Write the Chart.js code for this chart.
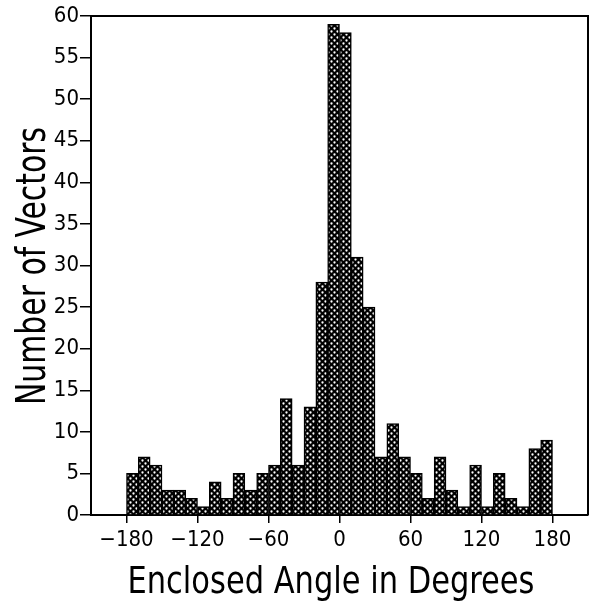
<!DOCTYPE html>
<html>
<head>
<meta charset="utf-8">
<script src="https://cdn.jsdelivr.net/npm/chart.js@4/dist/chart.umd.min.js"></script>
<style>
    html, body { margin: 0; padding: 0; background: #fff; }
    #wrap { width: 596px; height: 607px; }
</style>
</head>
<body>
<div id="wrap"><canvas id="mainChart" width="596" height="607"></canvas></div>
<script>
// Histogramm: eingeschlossener Winkel, 10-Grad-Klassen
const binCenters = [
    -175, -165, -155, -145, -135, -125, -115, -105, -95, -85, -75, -65,
    -55, -45, -35, -25, -15, -5, 5, 15, 25, 35, 45, 55,
    65, 75, 85, 95, 105, 115, 125, 135, 145, 155, 165, 175
];
const vectorCounts = [
    5, 7, 6, 3, 3, 2, 1, 4, 2, 5, 3, 5,
    6, 14, 6, 13, 28, 59, 58, 31, 25, 7, 11, 7,
    5, 2, 7, 3, 1, 6, 1, 5, 2, 1, 8, 9
];
const xTickValues = [-180, -120, -60, 0, 60, 120, 180];
const xTitle = 'Enclosed Angle in Degrees';
const yTitle = 'Number of Vectors';

const FONT = '"DejaVu Sans Condensed", "Liberation Sans Narrow", "DejaVu Sans", sans-serif';

// Punktraster-Füllung wie im Original
function makePattern() {
    const tile = document.createElement('canvas');
    tile.width = 6;
    tile.height = 6;
    const t = tile.getContext('2d');
    t.fillStyle = '#000';
    t.fillRect(0, 0, 6, 6);
    t.fillStyle = '#fff';
    [[1.5, 1.5], [4.5, 4.5]].forEach(([x, y]) => {
        t.beginPath();
        t.arc(x, y, 1.15, 0, Math.PI * 2);
        t.fill();
    });
    return t.createPattern(tile, 'repeat');
}

// Titel auf feste Breite gestaucht zeichnen (schmale Schrift im Original)
function drawFitted(ctx, text, cx, cy, rot, targetW, px) {
    ctx.save();
    ctx.translate(cx, cy);
    ctx.rotate(rot);
    ctx.font = px + 'px ' + FONT;
    const w = ctx.measureText(text).width;
    ctx.scale(targetW / w, 1);
    ctx.fillStyle = '#000';
    ctx.textAlign = 'center';
    ctx.textBaseline = 'alphabetic';
    ctx.fillText(text, 0, 0);
    ctx.restore();
}

const framePlugin = {
    id: 'frameAndTitles',
    afterDraw(chart) {
        const { ctx, chartArea: a } = chart;
        ctx.save();
        ctx.strokeStyle = '#000';
        ctx.lineWidth = 2;
        ctx.beginPath();
        ctx.moveTo(a.left, a.top);
        ctx.lineTo(a.right, a.top);
        ctx.lineTo(a.right, a.bottom);
        ctx.stroke();
        ctx.restore();

        drawFitted(ctx, xTitle, 331, 593, 0, 407, 38);
        drawFitted(ctx, yTitle, 45, 266, -Math.PI / 2, 278, 41);
    }
};

const ctx = document.getElementById('mainChart').getContext('2d');

new Chart(ctx, {
    type: 'bar',
    data: {
        datasets: [{
            label: 'Vectors',
            data: binCenters.map((x, i) => ({ x, y: vectorCounts[i] })),
            backgroundColor: makePattern(),
            borderColor: '#000',
            borderWidth: 1.5,
            barPercentage: 1,
            categoryPercentage: 1
        }]
    },
    options: {
        responsive: false,
        animation: false,
        devicePixelRatio: 1,
        layout: { padding: { left: 0, top: 16, right: 8, bottom: 0 } },
        plugins: {
            legend: { display: false },
            tooltip: { enabled: false }
        },
        scales: {
            x: {
                type: 'linear',
                min: -210,
                max: 210,
                offset: false,
                afterBuildTicks: (scale) => {
                    scale.ticks = xTickValues.map(v => ({ value: v }));
                },
                afterFit: (scale) => { scale.height = 92; },
                ticks: {
                    autoSkip: false,
                    maxRotation: 0,
                    padding: 4,
                    color: '#000',
                    font: { family: FONT, size: 22 },
                    callback: (v) => v < 0 ? '\u2212' + Math.abs(v) : String(v)
                },
                grid: {
                    offset: false,
                    drawOnChartArea: false,
                    drawTicks: true,
                    tickLength: 8,
                    color: '#000',
                    lineWidth: 1.5
                },
                border: { display: true, color: '#000', width: 2 }
            },
            y: {
                min: 0,
                max: 60,
                afterFit: (scale) => { scale.width = 91; },
                ticks: {
                    stepSize: 5,
                    padding: 1,
                    color: '#000',
                    font: { family: FONT, size: 22 }
                },
                grid: {
                    drawOnChartArea: false,
                    drawTicks: true,
                    tickLength: 11,
                    color: '#000',
                    lineWidth: 1.5
                },
                border: { display: true, color: '#000', width: 2 }
            }
        }
    },
    plugins: [framePlugin]
});
</script>
</body>
</html>
